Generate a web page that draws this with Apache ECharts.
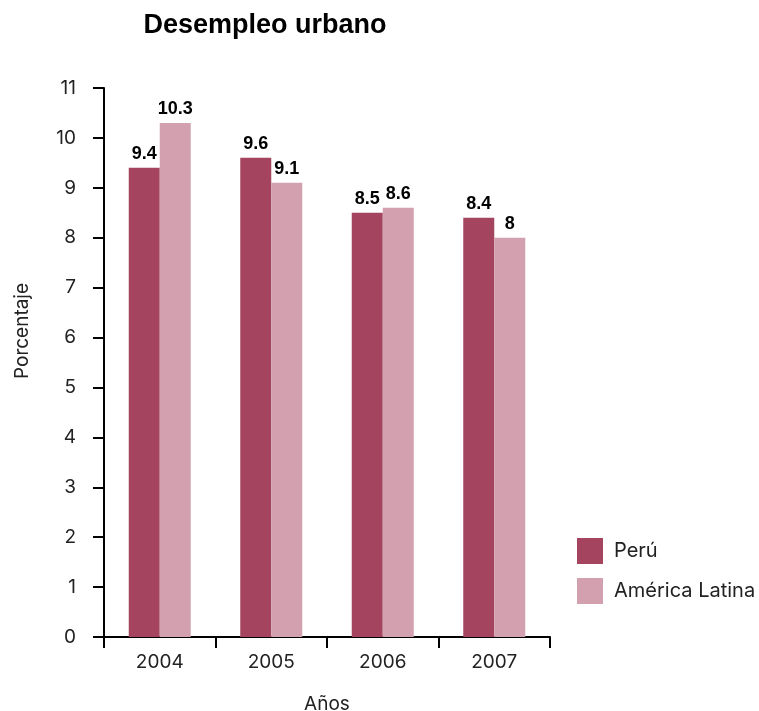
<!DOCTYPE html>
<html>
<head>
<meta charset="utf-8">
<script src="https://cdn.jsdelivr.net/npm/echarts@6/dist/echarts.min.js"></script>
<style>html,body{margin:0;padding:0;background:#fff}#c{width:759px;height:711px}</style>
</head>
<body>
<div id="c"></div>
<script>
const categories = ['2004', '2005', '2006', '2007'];
const peru = [9.4, 9.6, 8.5, 8.4];
const americaLatina = [10.3, 9.1, 8.6, 8];
const yTicks = [0, 1, 2, 3, 4, 5, 6, 7, 8, 9, 10, 11];

const chart = echarts.init(document.getElementById('c'));
const txt = '#222';
const lbl = {
  show: true, position: 'top', distance: 5,
  color: '#000', fontWeight: 'bold', fontSize: 18, fontFamily: 'Liberation Sans'
};
chart.setOption({
  animation: false,
  title: {
    text: 'Desempleo urbano', left: 260, top: 7, textAlign: 'center',
    textStyle: { fontFamily: 'Liberation Sans', fontWeight: 'bold', fontSize: 27, color: '#000' }
  },
  legend: {
    orient: 'vertical', left: 572, top: 533, itemWidth: 26, itemHeight: 26, itemGap: 14,
    icon: 'rect',
    textStyle: { fontFamily: 'Inter', fontSize: 20, color: txt, padding: [0, 0, 0, 6] },
    data: ['Perú', 'América Latina']
  },
  grid: { left: 104, right: 209, top: 88, bottom: 74, containLabel: false, outerBoundsMode: 'none' },
  xAxis: {
    type: 'category', data: categories,
    name: 'Años', nameLocation: 'middle', nameGap: 58,
    nameTextStyle: { fontFamily: 'Inter', fontSize: 19, color: txt },
    axisLine: { lineStyle: { color: '#000', width: 2 } },
    axisTick: { show: true, length: 11, lineStyle: { color: '#000', width: 2 }, alignWithLabel: false },
    axisLabel: { fontFamily: 'Inter', fontSize: 19, color: txt, margin: 16 }
  },
  yAxis: {
    type: 'value', min: yTicks[0], max: yTicks[yTicks.length - 1], interval: 1,
    axisLine: { show: true, lineStyle: { color: '#000', width: 2 } },
    axisTick: { show: true, length: 11, lineStyle: { color: '#000', width: 2 } },
    axisLabel: { fontFamily: 'Inter', fontSize: 19, color: txt, margin: 28 },
    splitLine: { show: false }
  },
  graphic: [{
    type: 'text', x: 13, y: 331, rotation: Math.PI / 2,
    style: { text: 'Porcentaje', fontFamily: 'Inter', fontSize: 19, fill: txt, align: 'center', verticalAlign: 'top' }
  }],
  series: [
    { name: 'Perú', type: 'bar', data: peru, barWidth: 31, barGap: '0%',
      itemStyle: { color: '#A4445F' }, label: lbl },
    { name: 'América Latina', type: 'bar', data: americaLatina, barWidth: 31, barGap: '0%',
      itemStyle: { color: '#D3A0B0' }, label: lbl }
  ]
});
</script>
</body>
</html>
